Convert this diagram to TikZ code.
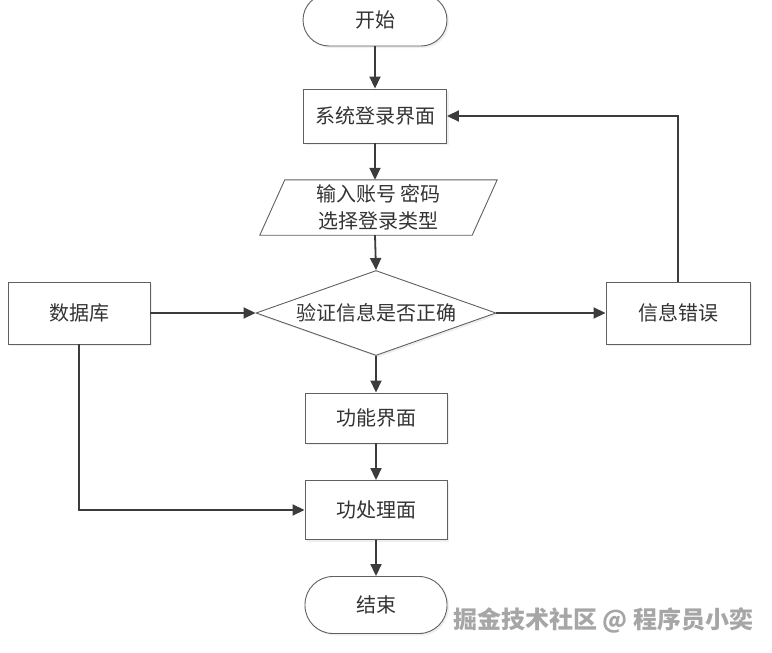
\documentclass[tikz,border=0pt]{standalone}
\usepackage{fontspec}
\newfontfamily\cjk{Noto Sans CJK SC}
\usetikzlibrary{arrows.meta,shapes.geometric,shadows}
\definecolor{ink}{HTML}{333333}
\definecolor{edge}{HTML}{606060}
\definecolor{arrowc}{HTML}{3C3C3C}
\begin{document}
\begin{tikzpicture}[x=1pt,y=-1pt,
  base/.style={font=\cjk\fontsize{20}{27}\selectfont, text=ink, inner sep=0pt},
  boxed/.style={base, draw=edge, line width=0.9pt, fill=white,
    drop shadow={shadow xshift=2pt, shadow yshift=-2pt, opacity=0.12}},
  procbox/.style={boxed, rectangle},
  termbox/.style={boxed, rectangle, rounded corners=26pt},
  decbox/.style={boxed, diamond, aspect=2.8},
  arr/.style={draw=arrowc, line width=1.8pt, -{Triangle[length=12pt,width=11pt]}}
]
\useasboundingbox (0,0) rectangle (772,653);
\fill[white] (0,0) rectangle (772,653);

\node[termbox, minimum width=144pt, minimum height=52pt] (start) at (375,20) {开始};
\node[procbox, minimum width=143pt, minimum height=54pt] (login) at (375,116) {系统登录界面};
\node[base, minimum width=212pt, minimum height=55pt, align=center] (input) at (378.5,207.5) {\phantom{输入账号 密码}};
\draw[edge, line width=0.9pt, fill=white]
  ([xshift=12.5pt]input.north west) -- ([xshift=12.5pt]input.north east)
  -- ([xshift=-12.5pt]input.south east) -- ([xshift=-12.5pt]input.south west) -- cycle;
\node[base, align=center] (inputtext) at (input.center) {输入账号 密码\\选择登录类型};
\node[decbox, minimum width=240pt, minimum height=85pt] (dia) at (376,313) {验证信息是否正确};
\node[procbox, minimum width=142pt, minimum height=62pt] (db) at (79,313) {数据库};
\node[procbox, minimum width=144pt, minimum height=62pt] (err) at (678,313) {信息错误};
\node[procbox, minimum width=142pt, minimum height=50pt] (func) at (376,418) {功能界面};
\node[procbox, minimum width=142pt, minimum height=59pt] (proc) at (376,510) {功处理面};
\node[termbox, minimum width=142pt, minimum height=57pt, rounded corners=28pt] (end) at (376,605) {结束};

\node[font=\cjk\bfseries\fontsize{24}{26}\selectfont, text=gray!70, anchor=west, inner sep=0pt] (wm) at (453,620) {掘金技术社区 @ 程序员小奕};

\draw[arr] (start) -- (login);
\draw[arr] (login.south) -- (login.south |- input.north);
\draw[arr] (login.south |- input.south) -- (dia.north);
\draw[arr] (db) -- (dia);
\draw[arr] (dia) -- (err);
\draw[arr] (err.north) |- (login.east);
\draw[arr] (dia.south) -- (func.north);
\draw[arr] (func) -- (proc);
\draw[arr] (db.south) |- (proc.west);
\draw[arr] (proc) -- (end);
\end{tikzpicture}
\end{document}
